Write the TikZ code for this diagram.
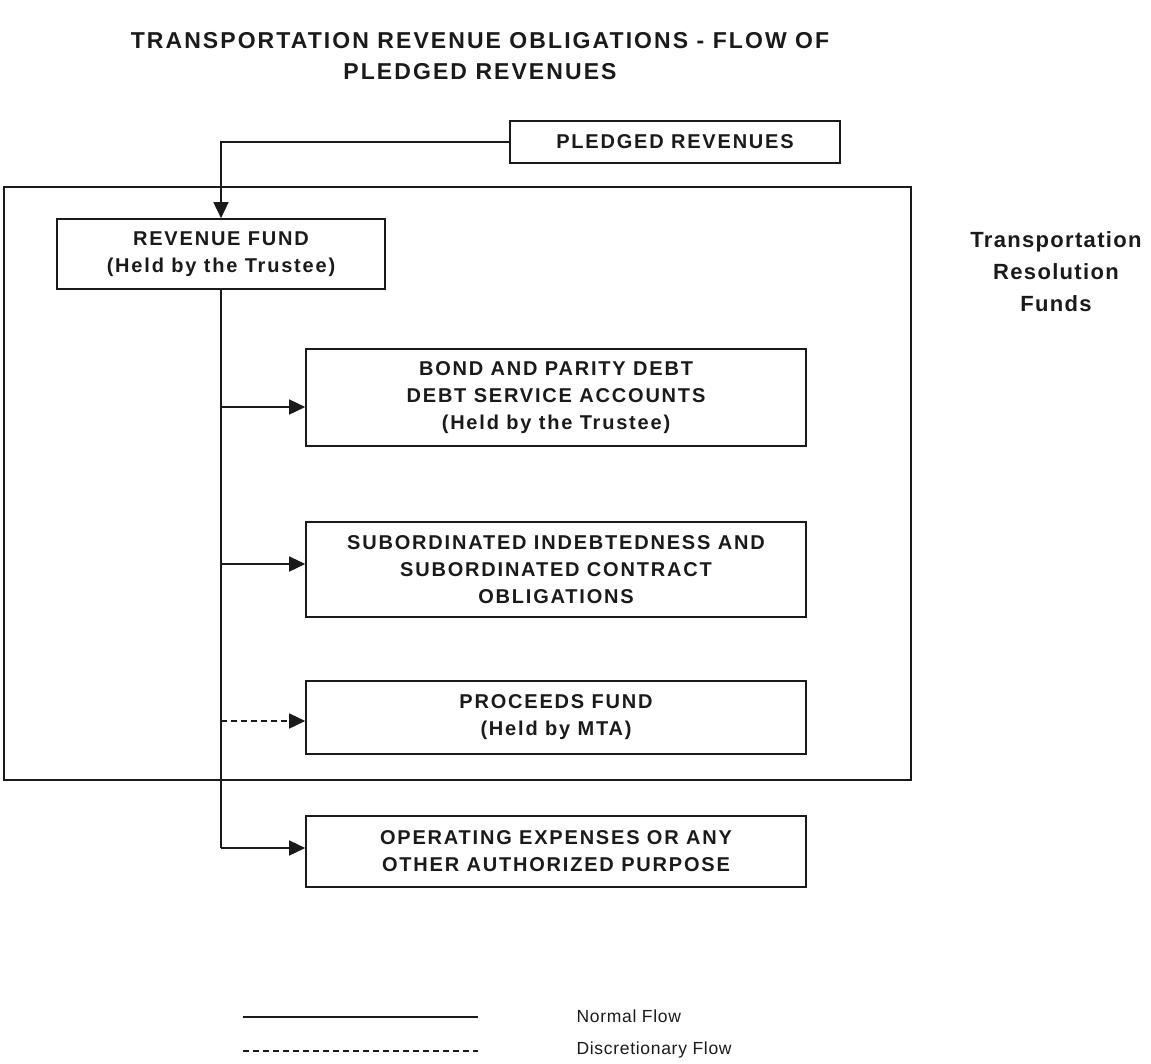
\documentclass[tikz,border=0pt]{standalone}
\usepackage{fontspec}
\setmainfont{Liberation Sans}
\usetikzlibrary{arrows.meta}
\definecolor{ink}{HTML}{1A1A1A}
\begin{document}
\begin{tikzpicture}[x=1pt,y=-1pt,
  box/.style={draw=ink,line width=1.6pt,inner sep=0pt,align=center,text=ink,
    font=\fontsize{20}{27}\selectfont\bfseries\addfontfeatures{LetterSpace=9}},
  flow/.style={draw=ink,line width=1.5pt,-{Triangle[length=16pt,width=15pt]}},
  dflow/.style={flow,dash pattern=on 6pt off 4pt},
  frame/.style={draw=ink,line width=2pt},
  ttl/.style={align=center,text=ink,font=\fontsize{23}{31}\selectfont\bfseries\addfontfeatures{LetterSpace=9}},
  side/.style={align=center,text=ink,font=\fontsize{22}{32}\selectfont\bfseries\addfontfeatures{LetterSpace=6}},
  leg/.style={text=ink,anchor=west,font=\fontsize{17.5}{20}\selectfont\addfontfeatures{LetterSpace=4}},
  legline/.style={draw=ink,line width=1.5pt}]
\useasboundingbox (0,0) rectangle (1151,1063);
\node[ttl] (title) at (480,56) {TRANSPORTATION REVENUE OBLIGATIONS - FLOW OF\\PLEDGED REVENUES};
\draw[frame] (4,187) rectangle (911,780);
\node[side] (funds) at (1056,272) {Transportation\\Resolution\\Funds};
\node[box,minimum width=330pt,minimum height=42pt] (pledged) at (675,142) {PLEDGED REVENUES};
\node[box,minimum width=328pt,minimum height=70pt] (revenue) at (221,254) {REVENUE FUND\\(Held by the Trustee)};
\node[box,minimum width=500pt,minimum height=97pt] (bond) at (556,397.5) {BOND AND PARITY DEBT\\DEBT SERVICE ACCOUNTS\\(Held by the Trustee)};
\node[box,minimum width=500pt,minimum height=95pt] (sub) at (556,569.5) {SUBORDINATED INDEBTEDNESS AND\\SUBORDINATED CONTRACT\\OBLIGATIONS};
\node[box,minimum width=500pt,minimum height=73pt] (proc) at (556,717.5) {PROCEEDS FUND\\(Held by MTA)};
\node[box,minimum width=500pt,minimum height=71pt] (oper) at (556,851.5) {OPERATING EXPENSES OR ANY\\OTHER AUTHORIZED PURPOSE};
\coordinate (j1) at (221,407);
\coordinate (j2) at (221,564);
\coordinate (j3) at (221,721);
\coordinate (j4) at (221,848);
\draw[flow] (pledged.west) -| (revenue.north);
\draw[draw=ink,line width=1.5pt] (revenue.south) -- (j4);
\draw[flow] (j1) -- (j1 -| bond.west);
\draw[flow] (j2) -- (j2 -| sub.west);
\draw[dflow] (j3) -- (j3 -| proc.west);
\draw[flow] (j4) -- (j4 -| oper.west);
\coordinate (l1a) at (243,1017);
\coordinate (l1b) at (478,1017);
\coordinate (l2a) at (243,1051);
\coordinate (l2b) at (478,1051);
\draw[legline] (l1a) -- (l1b);
\draw[legline,dash pattern=on 6pt off 4pt] (l2a) -- (l2b);
\node[leg] (normal) at (573,1016) {Normal Flow};
\node[leg] (disc) at (573,1050) {Discretionary Flow};
\end{tikzpicture}
\end{document}
